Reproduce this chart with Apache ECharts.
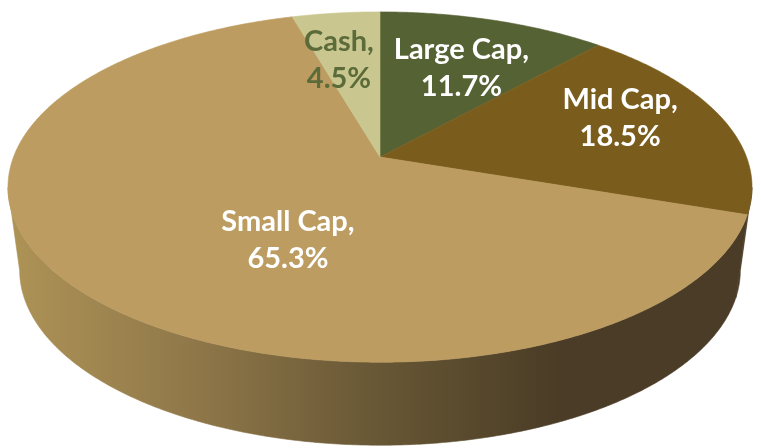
<!DOCTYPE html>
<html>
<head>
<meta charset="utf-8">
<style>html,body{margin:0;padding:0;background:#fff}#c{width:761px;height:448px}</style>
<script src="https://cdn.jsdelivr.net/npm/echarts@6/dist/echarts.min.js"></script>
</head>
<body>
<div id="c"></div>
<script>
// Data, clockwise from 12 o'clock
var categories = ['Large Cap', 'Mid Cap', 'Small Cap', 'Cash'];
var shares = [11.7, 18.5, 65.3, 4.5];

// Styling
var topColors = ['#556234', '#7a5c1c', '#bc9c60', '#c9c68f'];
var labelColors = ['#ffffff', '#ffffff', '#ffffff', '#5b6b39'];
var labelRadius = [0.623, 0.7225, 0.506, 0.6445];
var labelTurn = [2, -4.7, -19, -3];

var chart = echarts.init(document.getElementById('c'), null, {renderer: 'canvas'});
var K = 0.1716;
var rimTop = {x: 380, y: 157, a: 366.5, b: 170};
var rimBase = {x: 380, y: 240, a: 355, b: 170};
var VIS_FROM = 100, VIS_TO = 260;   // part of the rim facing the viewer
var total = shares.reduce(function (s, v) { return s + v; }, 0);

function project(rim, deg, r) {
  var t = deg * Math.PI / 180;
  var p = r * Math.sin(t), q = -r * Math.cos(t), w = 1 - K * q;
  return [rim.x + rim.a * p / w, rim.y + rim.b * q / w];
}
function arc(rim, from, to) {
  var pts = [], n = Math.max(2, Math.ceil(Math.abs(to - from) * 2));
  for (var i = 0; i <= n; i++) pts.push(project(rim, from + (to - from) * i / n, 1));
  return pts;
}
var wallFill = {
  type: 'linear', global: true, x: 10, y: 0, x2: 750, y2: 0,
  colorStops: [
    {offset: 0, color: '#ae9356'},
    {offset: 0.25, color: '#8f7749'},
    {offset: 0.5, color: '#675735'},
    {offset: 0.74, color: '#4a3c26'},
    {offset: 1, color: '#4a3c26'}
  ]
};

function renderItem(params, api) {
  var i = params.dataIndex, start = 0;
  for (var j = 0; j < i; j++) start += shares[j] / total * 360;
  var sweep = api.value(1) / total * 360, end = start + sweep;
  var children = [];

  var from = Math.max(start, VIS_FROM), to = Math.min(end, VIS_TO);
  if (to > from) {
    var wall = arc(rimTop, from, to).concat(arc(rimBase, to, from));
    children.push({
      type: 'polygon', z2: 1,
      shape: {points: wall},
      style: {fill: wallFill, stroke: wallFill, lineWidth: 0.6}
    });
  }
  var top = [project(rimTop, 0, 0)].concat(arc(rimTop, start, end));
  children.push({
    type: 'polygon', z2: 2,
    shape: {points: top},
    style: {fill: topColors[i], stroke: topColors[i], lineWidth: 0.6}
  });
  var at = project(rimTop, start + sweep / 2 + labelTurn[i], labelRadius[i]);
  children.push({
    type: 'text', z2: 10,
    style: {
      x: at[0], y: at[1],
      text: api.value(0) + ',\n' + api.value(1).toFixed(1) + '%',
      fill: labelColors[i],
      font: 'bold 29px Lato, "Open Sans", sans-serif',
      lineHeight: 37,
      align: 'center', verticalAlign: 'middle'
    }
  });
  return {type: 'group', children: children};
}

chart.setOption({
  animation: false,
  backgroundColor: '#ffffff',
  series: [{
    type: 'custom',
    coordinateSystem: 'none',
    renderItem: renderItem,
    encode: {itemName: 0, value: 1},
    data: categories.map(function (c, i) { return [c, shares[i]]; })
  }]
});
</script>
</body>
</html>
